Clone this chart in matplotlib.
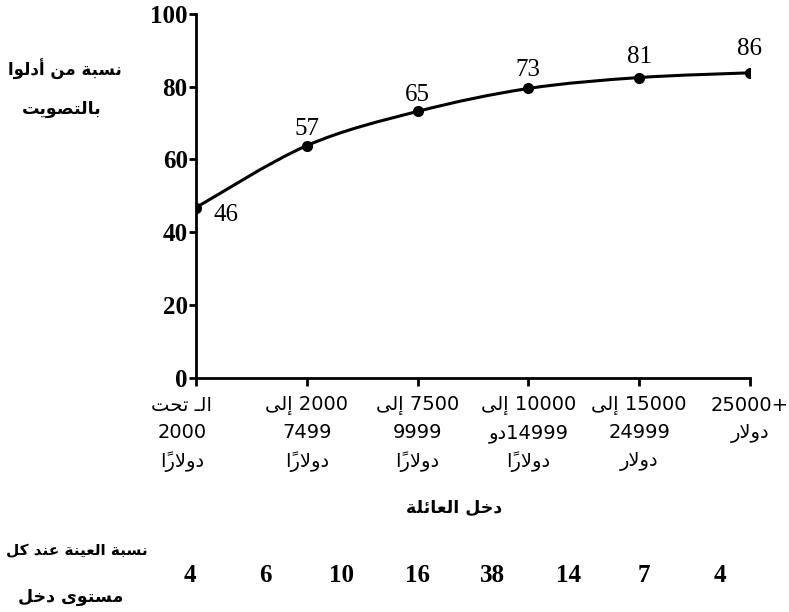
import numpy as np
import matplotlib
matplotlib.use("Agg")
from matplotlib import pyplot as plt
from matplotlib.path import Path
from matplotlib.patches import PathPatch
from matplotlib.transforms import ScaledTranslation

# data
categories = ["الـ تحت\n2000\nدولاراً", "2000 إلى\n7499\nدولاراً", "7500 إلى\n9999\nدولاراً",
              "10000 إلى\n14999دو\nدولاراً", "15000 إلى\n24999\nدولار", "25000+\nدولار"]
value_labels = [46, 57, 65, 73, 81, 86]
curve_y = [46.8, 63.8, 73.2, 79.5, 82.5, 83.8]   # where the dots sit on the drawn curve
sample_share = [4, 6, 10, 16, 38, 14, 7, 4]
y_ticks = [0, 20, 40, 60, 80, 100]

ylabel_text = "نسبة من أدلوا\nبالتصويت"
xlabel_text = "دخل العائلة"
sample_text = "نسبة العينة عند كل\nمستوى دخل"

# --- tiny arabic shaper (matplotlib has no text shaping) ---
FORMS = {
    'ا': ('\uFE8D', '\uFE8E', None, None), 'أ': ('\uFE83', '\uFE84', None, None),
    'إ': ('\uFE87', '\uFE88', None, None), 'ة': ('\uFE93', '\uFE94', None, None),
    'د': ('\uFEA9', '\uFEAA', None, None), 'ر': ('\uFEAD', '\uFEAE', None, None),
    'و': ('\uFEED', '\uFEEE', None, None), 'ى': ('\uFEEF', '\uFEF0', None, None),
    'ب': ('\uFE8F', '\uFE90', '\uFE91', '\uFE92'), 'ت': ('\uFE95', '\uFE96', '\uFE97', '\uFE98'),
    'ح': ('\uFEA1', '\uFEA2', '\uFEA3', '\uFEA4'), 'خ': ('\uFEA5', '\uFEA6', '\uFEA7', '\uFEA8'),
    'س': ('\uFEB1', '\uFEB2', '\uFEB3', '\uFEB4'), 'ص': ('\uFEB9', '\uFEBA', '\uFEBB', '\uFEBC'),
    'ع': ('\uFEC9', '\uFECA', '\uFECB', '\uFECC'), 'ك': ('\uFED9', '\uFEDA', '\uFEDB', '\uFEDC'),
    'ل': ('\uFEDD', '\uFEDE', '\uFEDF', '\uFEE0'), 'م': ('\uFEE1', '\uFEE2', '\uFEE3', '\uFEE4'),
    'ن': ('\uFEE5', '\uFEE6', '\uFEE7', '\uFEE8'), 'ي': ('\uFEF1', '\uFEF2', '\uFEF3', '\uFEF4'),
    'ئ': ('\uFE89', '\uFE8A', '\uFE8B', '\uFE8C'), 'ـ': ('ـ', 'ـ', 'ـ', 'ـ'),
    'لا': ('\uFEFB', '\uFEFC', None, None), 'لأ': ('\uFEF7', '\uFEF8', None, None),
    'لإ': ('\uFEF9', '\uFEFA', None, None),
}
DUAL = set('بتحخسصعكلمنيئـ')
MARKS = set('\u064B')


def shape_run(s):
    cl = []
    for ch in s:
        if ch in MARKS and cl:
            cl[-1][1] += ch
        elif cl and cl[-1][0] == 'ل' and not cl[-1][1] and ch in 'اأإ':
            cl[-1][0] = 'ل' + ch
        else:
            cl.append([ch, ''])
    out = []
    for i, (b, m) in enumerate(cl):
        prev = cl[i - 1][0] if i > 0 else None
        nxt = cl[i + 1][0] if i + 1 < len(cl) else None
        f = FORMS.get(b)
        cp = prev in DUAL and f is not None
        cn = b in DUAL and nxt in FORMS
        if f is None:
            g = b
        elif cp and cn:
            g = f[3]
        elif cp:
            g = f[1]
        elif cn:
            g = f[2]
        else:
            g = f[0]
        out.append(g + m)
    return ''.join(reversed(out))


def rtl(text):
    lines = []
    for line in text.split('\n'):
        runs = []
        for ch in line:
            kind = 'a' if '\u0600' <= ch <= '\u06FF' else ('s' if ch == ' ' else 'o')
            if runs and runs[-1][0] == kind:
                runs[-1][1] += ch
            else:
                runs.append([kind, ch])
        lines.append(''.join(shape_run(t) if k == 'a' else t for k, t in reversed(runs)))
    return '\n'.join(lines)


AR = ['DejaVu Sans']
NUM = ['Liberation Serif', 'DejaVu Sans']

fig = plt.figure(figsize=(7.89, 6.12), dpi=100)
ax = fig.add_axes([0.2484, 0.3824, 0.702, 0.595])

x = np.arange(len(value_labels))
pts = np.column_stack([x, curve_y])
# smooth curve through the dots (catmull-rom -> bezier)
ext = np.vstack([pts[0], pts, pts[-1]])
verts = [tuple(pts[0])]
codes = [Path.MOVETO]
for i in range(len(pts) - 1):
    p0, p1, p2, p3 = ext[i], ext[i + 1], ext[i + 2], ext[i + 3]
    verts += [tuple(p1 + (p2 - p0) / 6), tuple(p2 - (p3 - p1) / 6), tuple(p2)]
    codes += [Path.CURVE4] * 3
ax.add_patch(PathPatch(Path(verts, codes), fill=False, lw=2.2, color='black', zorder=3))
ax.plot(x, curve_y, 'o', color='black', ms=7, zorder=4)

offsets = [(30, -7), (0, 17), (0, 16), (0, 18), (0, 21), (0, 24)]
for xi, yi, lab, off in zip(x, curve_y, value_labels, offsets):
    ax.annotate(str(lab), (xi, yi), textcoords='offset pixels', xytext=off,
                ha='center', va='center', fontsize=18, family=NUM)

ax.set_xlim(0, 5)
ax.set_ylim(0, 100)
ax.spines['top'].set_visible(False)
ax.spines['right'].set_visible(False)
ax.spines['left'].set_linewidth(2)
ax.spines['bottom'].set_linewidth(2)

ax.set_yticks(y_ticks)
ax.set_yticklabels([str(t) for t in y_ticks], family=NUM, fontsize=18, fontweight='bold')
ax.tick_params(axis='y', length=5, width=2, pad=1)

ax.set_xticks(x)
ax.set_xticklabels([rtl(c) for c in categories], family=AR, fontsize=14, linespacing=1.55)
ax.tick_params(axis='x', length=6, width=2, pad=7)
first = ax.get_xticklabels()[0]
first.set_transform(first.get_transform() + ScaledTranslation(-0.14, 0, fig.dpi_scale_trans))

ylines = ylabel_text.split('\n')
fig.text(65 / 789, 1 - 69 / 612, rtl(ylines[0]), ha='center', va='center',
         family=AR, fontsize=12, fontweight='bold')
fig.text(62 / 789, 1 - 109 / 612, rtl(ylines[1]), ha='center', va='center',
         family=AR, fontsize=12.5, fontweight='bold')
fig.text(454 / 789, 1 - 508 / 612, rtl(xlabel_text), ha='center', va='center',
         family=AR, fontsize=12.5, fontweight='bold')
slines = sample_text.split('\n')
fig.text(148 / 789, 1 - 551 / 612, rtl(slines[0]), ha='right', va='center',
         family=AR, fontsize=11, fontweight='bold')
fig.text(71 / 789, 1 - 597 / 612, rtl(slines[1]), ha='center', va='center',
         family=AR, fontsize=12.5, fontweight='bold')

for xs, v in zip(np.linspace(190, 720, len(sample_share)), sample_share):
    fig.text(xs / 789, 1 - 575 / 612, str(v), ha='center', va='center',
             family=NUM, fontsize=18, fontweight='bold')

fig.savefig('out.png', dpi=100)
